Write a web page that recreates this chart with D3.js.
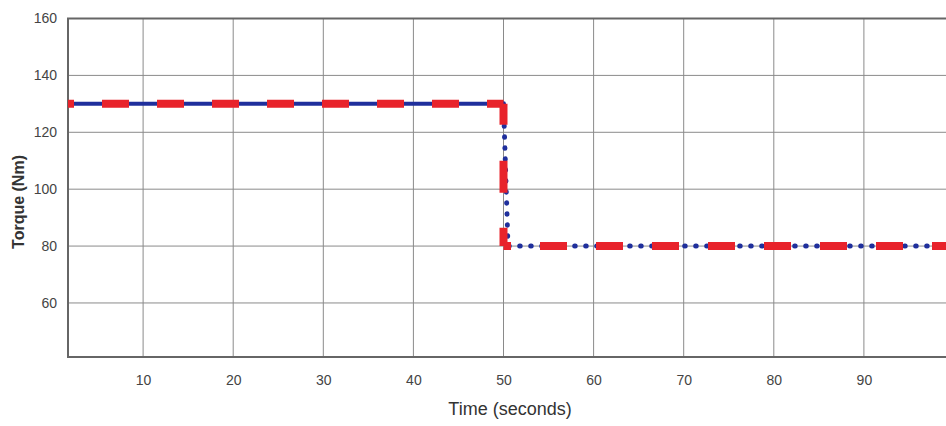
<!DOCTYPE html>
<meta charset="utf-8">
<style>
body { margin: 0; background: #fff; }
svg { display: block; font-family: "Liberation Sans", Arial, sans-serif; }
.grid line { stroke: #8a8a8a; stroke-width: 1px; }
.tick text { fill: #444; font-size: 14px; }
.frame { fill: none; stroke: #666; stroke-width: 2px; }
.ref { fill: none; stroke: #e8232b; stroke-width: 8px; }
</style>
<body>
<script src="https://cdn.jsdelivr.net/npm/d3@7"></script>
<script>
var width = 946, height = 426;

// chart values
var xTicks = [10, 20, 30, 40, 50, 60, 70, 80, 90];
var yTicks = [60, 80, 100, 120, 140, 160];
// measured torque (blue)
var measuredBefore = [[0, 130], [50, 130]];
var measuredAfter = [[50, 130], [50.2, 110], [50.5, 80], [100, 80]];
// reference torque (red dashed), split at the step
var refHigh = [[0, 130], [50, 130]];
var refDrop = [[50, 130], [50, 80]];
var refLow = [[50, 80], [100, 80]];

var plotLeft = 68, plotTop = 18.5, plotBottom = 357;
var x = d3.scaleLinear().domain([0, 100]).range([53, 954]);
var y = d3.scaleLinear().domain([41, 160]).range([plotBottom, plotTop]);

var svg = d3.select("body").append("svg")
    .attr("width", width)
    .attr("height", height);

svg.append("defs").append("clipPath")
    .attr("id", "clip")
  .append("rect")
    .attr("x", plotLeft).attr("y", plotTop)
    .attr("width", width - plotLeft).attr("height", plotBottom - plotTop);

// grid
svg.append("g")
    .attr("class", "grid")
    .selectAll("line.v")
    .data(xTicks)
  .enter().append("line")
    .attr("x1", function(d) { return x(d); })
    .attr("x2", function(d) { return x(d); })
    .attr("y1", plotTop).attr("y2", plotBottom);
svg.append("g")
    .attr("class", "grid")
    .selectAll("line.h")
    .data(yTicks)
  .enter().append("line")
    .attr("x1", plotLeft).attr("x2", width)
    .attr("y1", function(d) { return y(d); })
    .attr("y2", function(d) { return y(d); });

// frame
svg.append("path")
    .attr("class", "frame")
    .attr("d", "M" + width + "," + plotTop + "H" + plotLeft + "V" + plotBottom + "H" + width);

// axes labels
var xAxis = d3.axisBottom(x).tickValues(xTicks).tickSize(0).tickPadding(18);
svg.append("g")
    .attr("transform", "translate(0," + plotBottom + ")")
    .call(xAxis)
    .call(function(g) { g.select(".domain").remove(); });

var yAxis = d3.axisLeft(y).tickValues(yTicks).tickSize(0).tickPadding(11);
svg.append("g")
    .attr("transform", "translate(" + plotLeft + ",0)")
    .call(yAxis)
    .call(function(g) { g.select(".domain").remove(); });

svg.append("text")
    .attr("x", 510).attr("y", 415)
    .attr("text-anchor", "middle")
    .attr("font-size", 18)
    .attr("fill", "#333")
    .text("Time (seconds)");

svg.append("text")
    .attr("transform", "translate(24,202) rotate(-90)")
    .attr("text-anchor", "middle")
    .attr("font-size", 16)
    .attr("font-weight", "bold")
    .attr("fill", "#333")
    .text("Torque (Nm)");

// lines
var line = d3.line()
    .x(function(d) { return x(d[0]); })
    .y(function(d) { return y(d[1]); });

var plot = svg.append("g").attr("clip-path", "url(#clip)");

plot.append("path")
    .datum(measuredBefore)
    .attr("d", line)
    .attr("fill", "none")
    .attr("stroke", "#1f2f9c")
    .attr("stroke-width", 4);

plot.append("path")
    .datum(measuredAfter)
    .attr("d", line)
    .attr("fill", "none")
    .attr("stroke", "#1f2f9c")
    .attr("stroke-width", 5)
    .attr("stroke-linecap", "round")
    .attr("stroke-dasharray", "0.5,10.5");

plot.append("path")
    .datum(refHigh)
    .attr("class", "ref")
    .attr("d", line)
    .attr("stroke-dasharray", "27,28")
    .attr("stroke-dashoffset", 6);

plot.append("path")
    .datum(refDrop)
    .attr("class", "ref")
    .attr("d", line)
    .attr("stroke-dasharray", "21,36,32,35,30");

plot.append("path")
    .datum(refLow)
    .attr("class", "ref")
    .attr("d", line)
    .attr("stroke-dasharray", "27,29")
    .attr("stroke-dashoffset", 19.5);
</script>
